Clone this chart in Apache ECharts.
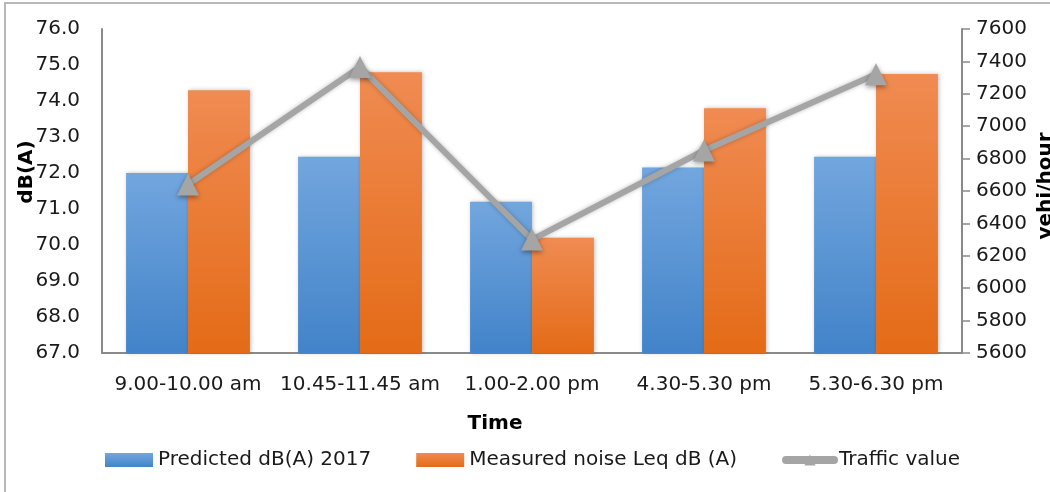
<!DOCTYPE html>
<html>
<head>
<meta charset="utf-8">
<script src="https://cdn.jsdelivr.net/npm/echarts@6/dist/echarts.min.js"></script>
<style>
  html, body { margin: 0; padding: 0; background: #fff; }
  #chart { width: 1050px; height: 492px; }
</style>
</head>
<body>
<div id="chart"></div>
<script>
// Time slots along the x axis
const timeSlots = ['9.00-10.00 am', '10.45-11.45 am', '1.00-2.00 pm', '4.30-5.30 pm', '5.30-6.30 pm'];
// Noise levels, dB(A)
const predictedDb = [72.0, 72.45, 71.2, 72.15, 72.45];
const measuredLeq = [74.3, 74.8, 70.2, 73.8, 74.75];
// Traffic volume, vehicles per hour
const trafficValue = [6640, 7365, 6300, 6850, 7320];

const FONT = '"DejaVu Sans", "Liberation Sans", sans-serif';
const FS = 20;
const AXIS_GREY = '#8a8a8a';
const TEXT = '#1a1a1a';

const chart = echarts.init(document.getElementById('chart'), null, { renderer: 'canvas' });

function grad(top, bottom) {
  return new echarts.graphic.LinearGradient(0, 0, 0, 1, [
    { offset: 0, color: top },
    { offset: 1, color: bottom }
  ]);
}

chart.setOption({
  animation: false,
  backgroundColor: '#ffffff',
  textStyle: { fontFamily: FONT },
  grid: { left: 102, right: 88, top: 29, bottom: 139, containLabel: false },
  legend: {
    left: 100,
    top: 445,
    itemWidth: 48,
    itemHeight: 14,
    itemGap: 45,
    textStyle: { fontFamily: FONT, fontSize: FS, color: TEXT },
    data: [
      { name: 'Predicted dB(A) 2017', icon: 'rect' },
      { name: 'Measured noise Leq dB (A)', icon: 'rect' },
      { name: 'Traffic value', lineStyle: { width: 8, cap: 'round' } }
    ]
  },
  xAxis: {
    type: 'category',
    data: timeSlots,
    axisLine: { show: true, lineStyle: { color: AXIS_GREY, width: 2 } },
    axisTick: { show: false },
    axisLabel: { fontFamily: FONT, fontSize: FS, color: TEXT, margin: 22, interval: 0 }
  },
  yAxis: [
    {
      type: 'value',
      min: 67,
      max: 76,
      interval: 1,
      axisLine: { show: true, lineStyle: { color: AXIS_GREY, width: 2 } },
      axisTick: { show: false },
      splitLine: { show: false },
      axisLabel: {
        fontFamily: FONT, fontSize: FS, color: TEXT, margin: 22,
        formatter: v => v.toFixed(1)
      }
    },
    {
      type: 'value',
      min: 5600,
      max: 7600,
      interval: 200,
      position: 'right',
      axisLine: { show: true, lineStyle: { color: AXIS_GREY, width: 2 } },
      axisTick: { show: true, length: 8, lineStyle: { color: AXIS_GREY, width: 1.5 } },
      splitLine: { show: false },
      axisLabel: { fontFamily: FONT, fontSize: FS, color: TEXT, margin: 14, formatter: v => String(v) }
    }
  ],
  series: [
    {
      name: 'Predicted dB(A) 2017',
      type: 'bar',
      data: predictedDb,
      barGap: '0%',
      barCategoryGap: '28%',
      itemStyle: {
        color: grad('#72a6de', '#4283c9'),
        shadowBlur: 4, shadowColor: 'rgba(0,0,0,0.25)', shadowOffsetX: 1
      }
    },
    {
      name: 'Measured noise Leq dB (A)',
      type: 'bar',
      data: measuredLeq,
      itemStyle: {
        color: grad('#f08b52', '#e46b17'),
        shadowBlur: 4, shadowColor: 'rgba(0,0,0,0.25)', shadowOffsetX: 1
      }
    },
    {
      name: 'Traffic value',
      type: 'line',
      yAxisIndex: 1,
      data: trafficValue,
      symbol: 'triangle',
      symbolSize: 22,
      lineStyle: { color: '#a5a5a5', width: 6, shadowBlur: 4, shadowColor: 'rgba(0,0,0,0.25)' },
      itemStyle: { color: '#a5a5a5', shadowBlur: 5, shadowColor: 'rgba(0,0,0,0.4)', shadowOffsetY: 2 },
      z: 5
    }
  ],
  graphic: [
    {
      type: 'rect',
      silent: true,
      shape: { x: 5, y: 3, width: 1060, height: 500 },
      style: { fill: 'none', stroke: '#b8b8b8', lineWidth: 2 }
    },
    {
      type: 'text',
      silent: true,
      x: 495, y: 424,
      style: { text: 'Time', font: 'bold ' + FS + 'px ' + FONT, fill: '#000', align: 'center', verticalAlign: 'middle' }
    },
    {
      type: 'text',
      silent: true,
      x: 27, y: 172,
      rotation: Math.PI / 2,
      style: { text: 'dB(A)', font: 'bold ' + FS + 'px ' + FONT, fill: '#000', align: 'center', verticalAlign: 'middle' }
    },
    {
      type: 'text',
      silent: true,
      x: 1046, y: 186,
      rotation: Math.PI / 2,
      style: { text: 'vehi/hour', font: 'bold ' + FS + 'px ' + FONT, fill: '#000', align: 'center', verticalAlign: 'middle' }
    }
  ]
});
</script>
</body>
</html>
